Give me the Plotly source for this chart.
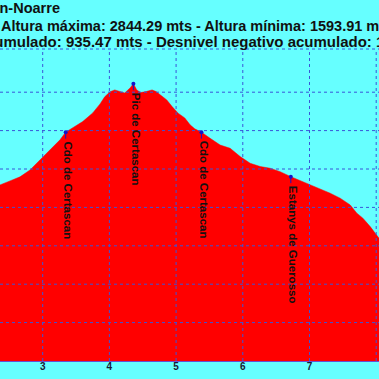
import plotly.graph_objects as go

# Elevation profile (distance in km, altitude in m)
dist_km = [2.30, 2.36, 2.51, 2.66, 2.81, 2.96, 3.11, 3.26, 3.345, 3.45, 3.60, 3.75, 3.86, 3.93,
           4.01, 4.08, 4.16, 4.23, 4.31, 4.36, 4.41, 4.47, 4.55, 4.64, 4.70, 4.76, 4.86, 4.94,
           5.03, 5.13, 5.21, 5.28, 5.38, 5.51, 5.66, 5.81, 5.96, 6.11, 6.26, 6.41, 6.56, 6.72,
           6.86, 7.01, 7.16, 7.31, 7.46, 7.61, 7.71, 7.80, 7.91, 7.98, 8.04, 8.10]
elev_m = [2290, 2317, 2338, 2359, 2395, 2448, 2500, 2552, 2592, 2614, 2647, 2692, 2739, 2776,
          2802, 2812, 2802, 2796, 2822, 2844.29, 2812, 2798, 2803, 2812, 2803, 2786, 2760, 2725,
          2691, 2666, 2630, 2609, 2592, 2560, 2525, 2508, 2465, 2430, 2413, 2404, 2386, 2360,
          2340, 2317, 2296, 2274, 2248, 2213, 2170, 2144, 2100, 2066, 2040, 2000]

# Waypoints
wp_names = ["Cdo de Certascan", "Pic de Certascan", "Cdo de Certascan", "Estanys de Guerosso"]
wp_km = [3.345, 4.36, 5.38, 6.72]
wp_elev = [2592, 2844.29, 2592, 2360]

x_ticks = [3, 4, 5, 6, 7, 8]
y_grid = [1600, 1800, 2000, 2200, 2400, 2600, 2800]

title_line1 = "Ruta Certascan-Noarre"
title_line2 = "Altura máxima: 2844.29 mts - Altura mínima: 1593.91 mts"
title_line3 = "Desnivel positivo acumulado: 935.47 mts - Desnivel negativo acumulado: 1..."

CYAN = "#66FFFF"
RED = "#FF0000"
GRID = "#3a55d8"
MARK = "#1515c8"
FONT = "Liberation Sans, Arial, sans-serif"

fig = go.Figure()
fig.add_trace(go.Scatter(x=dist_km, y=elev_m, mode="lines", fill="tozeroy",
                         line=dict(color=RED, width=0.5), fillcolor=RED,
                         hoverinfo="skip", showlegend=False))
fig.add_trace(go.Scatter(x=wp_km, y=wp_elev, mode="markers",
                         marker=dict(color=MARK, size=4), showlegend=False))

shapes = []
for xv in x_ticks:
    shapes.append(dict(type="line", xref="x", yref="paper", x0=xv, x1=xv, y0=0, y1=1,
                       line=dict(color=GRID, width=1, dash="dot"), layer="above"))
for yv in y_grid:
    shapes.append(dict(type="line", xref="paper", yref="y", x0=0, x1=1, y0=yv, y1=yv,
                       line=dict(color=GRID, width=1, dash="dot"), layer="above"))
shapes.append(dict(type="line", xref="paper", yref="paper", x0=0, x1=1, y0=1, y1=1,
                   line=dict(color=GRID, width=1, dash="dot"), layer="above"))

annotations = []
for name, xk, ye in zip(wp_names, wp_km, wp_elev):
    # short leader tick below the waypoint
    annotations.append(dict(x=xk, y=ye, xref="x", yref="y", text="", showarrow=True,
                            arrowhead=0, arrowwidth=1, arrowcolor=MARK, ax=0, ay=8))
    annotations.append(dict(x=xk, y=ye, xref="x", yref="y", text="<b>" + name + "</b>",
                            textangle=90, showarrow=False, xanchor="center", yanchor="top",
                            xshift=2, yshift=-7,
                            font=dict(family=FONT, size=11.5, color="#111111")))

W = 379.0
annotations.append(dict(x=62 / W, y=1.131, xref="paper", yref="paper", xanchor="right",
                        yanchor="middle", showarrow=False, text="<b>" + title_line1 + "</b>",
                        font=dict(family=FONT, size=14.5, color="#111111")))
annotations.append(dict(x=-1 / W, y=1.0737, xref="paper", yref="paper", xanchor="left",
                        yanchor="middle", showarrow=False, text="<b>" + title_line2 + "</b>",
                        font=dict(family=FONT, size=14.5, color="#111111")))
annotations.append(dict(x=-152 / W, y=1.0255, xref="paper", yref="paper", xanchor="left",
                        yanchor="middle", showarrow=False, text="<b>" + title_line3 + "</b>",
                        font=dict(family=FONT, size=15, color="#111111")))

fig.update_layout(
    width=379, height=379,
    margin=dict(l=0, r=0, t=49, b=18),
    paper_bgcolor=CYAN, plot_bgcolor=CYAN,
    shapes=shapes, annotations=annotations,
    xaxis=dict(range=[2.360, 8.042], tickvals=x_ticks, ticktext=["<b>%d</b>" % v for v in x_ticks],
               showgrid=False, zeroline=False, ticks="", ticklen=0, ticklabelstandoff=-4,
               showline=True, linecolor="#6a4fd0", linewidth=1, layer="above traces",
               tickfont=dict(family=FONT, size=10, color="#1a1a33")),
    yaxis=dict(range=[1400, 3025], showgrid=False, zeroline=False, showticklabels=False,
               ticks=""),
    showlegend=False,
)

fig.write_html("out.html", post_script="document.body.style.margin='0';",
               config={"displayModeBar": False})
